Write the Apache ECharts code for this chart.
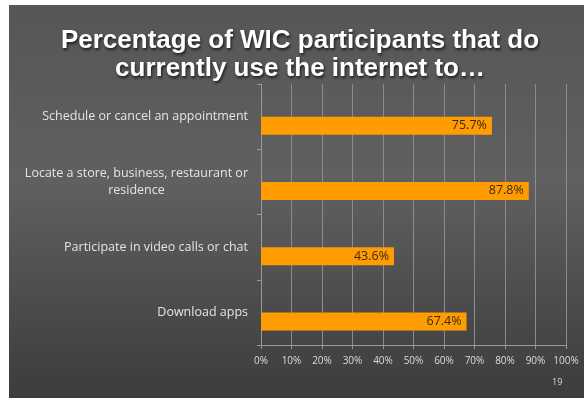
<!DOCTYPE html>
<html><head><meta charset="utf-8">
<script src="https://cdn.jsdelivr.net/npm/echarts@6/dist/echarts.min.js"></script>
<style>html,body{margin:0;padding:0;background:#fff}#c{width:584px;height:398px}</style>
</head><body><div id="c"></div>
<script>
const categories = [
  'Schedule or cancel an appointment',
  'Locate a store, business, restaurant or\nresidence',
  'Participate in video calls or chat',
  'Download apps'
];
const values = [75.7, 87.8, 43.6, 67.4];
const emptySeries = [null, null, null, null];
const titleText = 'Percentage of WIC participants that do\ncurrently use the internet to…';
const pageNumber = '19';

const chart = echarts.init(document.getElementById('c'));
chart.setOption({
  animation: false,
  graphic: [{
    type: 'rect', z: -10, silent: true,
    shape: {x: 9, y: 5, width: 575, height: 393},
    style: {fill: new echarts.graphic.LinearGradient(0, 0, 0, 1, [
      {offset: 0, color: '#565656'},
      {offset: 0.45, color: '#606060'},
      {offset: 1, color: '#3c3c3c'}
    ])}
  }, {
    type: 'text', left: 552, top: 378,
    style: {text: pageNumber, fill: '#d8d8d8', font: '9px "Open Sans"'}
  }, {
    type: 'text', x: 300, y: 27, z: 10,
    style: {text: titleText, fill: '#fff', align: 'center', verticalAlign: 'top', font: 'bold 26px "Liberation Sans"', lineHeight: 28,
      textShadowColor: 'rgba(0,0,0,0.7)', textShadowBlur: 3, textShadowOffsetX: 1, textShadowOffsetY: 2}
  }],
  grid: {left: 261, right: 18, top: 84, bottom: 53, containLabel: false},
  xAxis: {
    type: 'value', min: 0, max: 100, interval: 10,
    axisLine: {show: true, lineStyle: {color: '#9a9a9a'}},
    axisTick: {show: true, length: 4, lineStyle: {color: '#9a9a9a'}},
    splitLine: {show: true, lineStyle: {color: '#8c8c8c', width: 1}},
    axisLabel: {formatter: '{value}%', color: '#dcdcdc', fontSize: 10, fontFamily: 'Open Sans', margin: 11}
  },
  yAxis: {
    type: 'category', data: categories, inverse: true,
    axisLine: {show: true, lineStyle: {color: '#9a9a9a'}},
    axisTick: {show: true, length: 4, lineStyle: {color: '#9a9a9a'}},
    axisLabel: {
      color: '#e4e4e4', fontSize: 12.5, fontFamily: 'Open Sans', margin: 13,
      formatter: v => v.split('\n').map(s => '{c|' + s + '}').join('\n'),
      rich: {c: {align: 'center', color: '#e4e4e4', fontSize: 12.5, fontFamily: 'Open Sans', lineHeight: 17}}
    }
  },
  series: [{
    type: 'bar', name: 'empty', data: emptySeries, barWidth: 18, barGap: '0%'
  }, {
    type: 'bar', name: 'pct', data: values, barWidth: 18, barGap: '0%',
    itemStyle: {color: '#ff9c00'},
    label: {show: true, position: 'insideRight', distance: 5, formatter: '{c}%',
      color: '#3a2a12', fontSize: 12.5, fontFamily: 'Open Sans'}
  }]
});
</script></body></html>
